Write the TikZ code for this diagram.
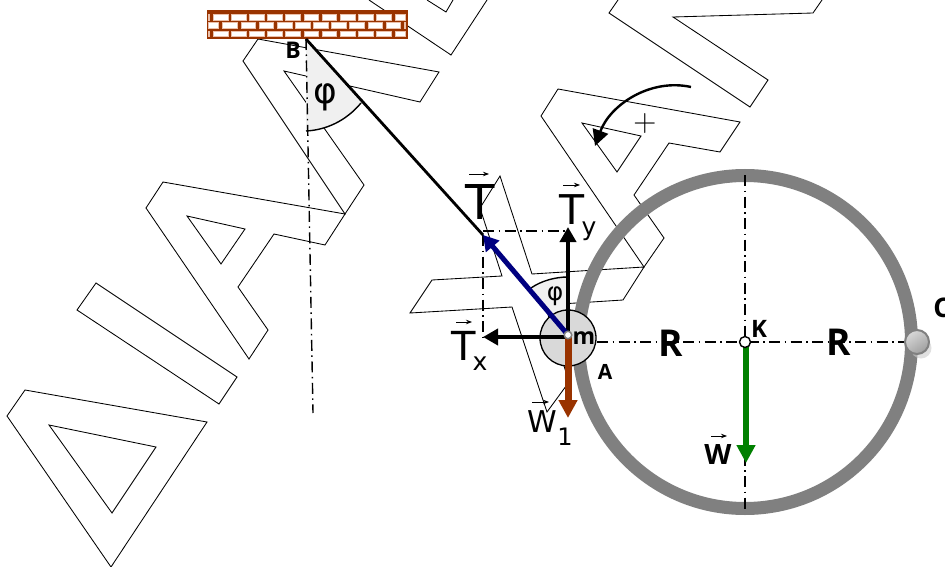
\documentclass[tikz,border=0pt]{standalone}
\usepackage{fontspec}
\usetikzlibrary{arrows.meta}
\newfontfamily\djs{DejaVu Sans}
\newfontfamily\ops{Open Sans}
\newcommand{\fsz}[1]{\fontsize{#1}{#1}\selectfont}
\definecolor{brickc}{HTML}{993300}
\definecolor{navyc}{HTML}{000080}
\definecolor{greenc}{HTML}{008000}
\definecolor{ringc}{HTML}{808080}
\definecolor{wedgec}{HTML}{F0F0F0}
\definecolor{discc}{HTML}{D9D9D9}
\definecolor{mortar}{HTML}{EBC0AA}
\tikzset{
  outline/.style={draw=black,line width=0.85pt,line join=miter},
  axisline/.style={draw=black,line width=1.4pt,dash pattern=on 11pt off 4.5pt on 1.5pt off 4.5pt},
  lab/.style={inner sep=0pt,outer sep=0pt,text=black},
  vecbar/.style={draw=black,line width=0.8pt,-{Stealth[length=6pt,width=4.5pt]}},
  brick/.style={fill=white,draw=mortar,line width=0.8pt},
}
\begin{document}
\begin{tikzpicture}[x=1pt,y=-1pt]
\useasboundingbox (0,0) rectangle (945,567);
\fill[white] (0,0) rectangle (945,567);
% background outlines
\draw[outline] (25,390)--(7,416)--(111,567)--(207,422)--cycle;
\draw[outline] (49,425)--(156,447)--(112,513)--cycle;
\draw[outline] (96,283)--(77,310)--(219,404)--(237,377)--cycle;
\draw[outline] (163,182)--(146,208)--(249,359)--(268,330)--(238,287)--(274,234)--(325,245)--(345,214)--cycle;
\draw[outline] (187,216)--(245,229)--(221,264)--cycle;
\draw[outline] (258,39)--(439,72)--(420,102)--(284,71)--(364,185)--(345,214)--(243,61)--cycle;
\draw[outline] (369,0)--(451,55)--(487,0);
\draw[outline] (427,0)--(446,12)--(453,0);
\draw[outline] (558,89)--(541,116)--(644,267)--(664,238)--(634,195)--(669,143)--(720,152)--(740,122)--cycle;
\draw[outline] (582,123)--(641,136)--(617,172)--cycle;
\draw[outline] (618,0)--(609,13)--(750,107)--(768,80)--(673,17)--(813,13)--(822,0);
\draw[outline] (432,280)--(410,313)--(512,307)--(547,412)--(569,382)--(545,305)--(623,300)--(644,267)--(532,274)--(500,176)--(480,208)--(502,276)--cycle;
% coordinates
\coordinate (B) at (306,39);
\coordinate (Bdown) at (313,413);
\coordinate (Wa) at (306,131);
\coordinate (Wb) at (361,103);
\coordinate (M) at (568,335);
\coordinate (Mx) at (568,337);
\coordinate (Tt) at (483,235);
\coordinate (Tyt) at (568,227);
\coordinate (Txt) at (483,337);
\coordinate (W1t) at (568,418);
\coordinate (Wt) at (746,463);
\coordinate (Wg) at (746,342);
\coordinate (Wc) at (531,288);
\coordinate (Wd) at (568,277);
\coordinate (Kc) at (745,342);
% wedges
\fill[wedgec] (B)--(Wa) .. controls (326,130) and (346,121) .. (Wb)--cycle;
\draw[black,line width=1.4pt] (Wa) .. controls (326,130) and (346,121) .. (Wb);
\fill[wedgec] (M)--(Wc) .. controls (541,281) and (555,277) .. (Wd)--cycle;
\draw[black,line width=1.4pt] (Wc) .. controls (541,281) and (555,277) .. (Wd);
% ring
\node[circle,draw=ringc,line width=13pt,minimum size=333pt,inner sep=0pt,outer sep=0pt,fill=none] (ring) at (Kc) {};
% center lines
\draw[axisline] (B)--(Bdown);
\draw[axisline] (745,175)--(745,512);
\draw[axisline] (597,342)--(908,342);
\draw[axisline] (483,231)--(Tyt |- 483,231);
\draw[axisline] (Tt)--(Txt);
% ceiling
\fill[brickc] (207,10.5) rectangle (408,39);
\foreach \i in {0,...,9}{
  \fill[brick] ({213.2+18.15*\i},14.3) rectangle ({227.9+18.15*\i},20.2);
  \fill[brick] ({213.2+18.15*\i},31.3) rectangle ({227.9+18.15*\i},36.2);
}
\foreach \yy/\hh in {14.3/20.2,31.3/36.2}{
  \fill[brick] (208.8,\yy) rectangle (209.8,\hh);
  \fill[brick] (395,\yy) rectangle (405.5,\hh);
}
\foreach \i in {0,...,9}{
  \fill[brick] ({222.8+18.15*\i},22.9) rectangle ({237.5+18.15*\i},28.6);
}
\fill[brick] (208.8,22.9) rectangle (218.8,28.6);
\fill[brick] (404,22.9) rectangle (405.2,28.6);
% string
\draw[black,line width=2.8pt] (B)--(Tt);
% mass
\node[circle,draw=black,fill=discc,line width=1.3pt,minimum size=56pt,inner sep=0pt] (mass) at (568,338) {};
% vectors
\draw[black,line width=4pt,-{Triangle[length=15pt,width=16pt]}] (M)--(Tyt);
\draw[black,line width=4pt,-{Triangle[length=15pt,width=16pt]}] (Mx)--(Txt);
\draw[navyc,line width=5pt,-{Triangle[length=15pt,width=17pt]}] (M)--(Tt);
\draw[brickc,line width=7pt,-{Triangle[length=18pt,width=18pt]}] (M)--(W1t);
\draw[greenc,line width=5.5pt,-{Triangle[length=18pt,width=18pt]}] (Wg)--(Wt);
\node[circle,draw=ringc,fill=white,line width=1.5pt,minimum size=7.5pt,inner sep=0pt] (mdot) at (M) {};
\node[circle,draw=black,fill=white,line width=1.4pt,minimum size=11pt,inner sep=0pt] (Kdot) at (Kc) {};
% ball C
\fill[black!20,opacity=.6] (921,348) circle (10.5);
\node[circle,draw=ringc,line width=2pt,minimum size=24pt,inner sep=0pt,top color=black!15,bottom color=black!38,shading angle=35] (ball) at (917,342) {};
% rotation arrow
\coordinate (Ra) at (691,87);
\coordinate (Rb) at (595,146);
\draw[black,line width=2.4pt,-{Triangle[length=16pt,width=16pt]}] (Ra) .. controls (650,78) and (610,105) .. (Rb);
\node[lab,font=\fsz{32}] (plus) at (645,124) {+};
% labels
\node[lab,font=\djs\fsz{36}] (phiB) at (325,97) {φ};
\node[lab,font=\djs\fsz{25}] (phiM) at (555,296) {φ};
\node[lab,font=\djs\fsz{48}] (T) at (480,202) {T};
\node[lab,font=\djs\fsz{41}] (Ty) at (572,210) {T};
\node[lab,font=\djs\fsz{25}] (Tys) at (589,231) {y};
\node[lab,font=\djs\fsz{40}] (Tx) at (464,346) {T};
\node[lab,font=\djs\fsz{25}] (Txs) at (480,364) {x};
\node[lab,font=\djs\fsz{30}] (Wone) at (542,422) {W};
\node[lab,font=\djs\fsz{24}] (Wones) at (565,437) {1};
\node[lab,font=\ops\bfseries\fsz{28}] (Wb1) at (718,455) {W};
\node[lab,font=\ops\bfseries\fsz{23}] (mlab) at (584,338) {m};
\node[lab,font=\ops\bfseries\fsz{21}] (Alab) at (605,372) {A};
\node[lab,font=\ops\bfseries\fsz{23}] (Blab) at (293,50) {B};
\node[lab,font=\ops\bfseries\fsz{24}] (Klab) at (759,329) {K};
\node[lab,font=\ops\bfseries\fsz{37}] (R1) at (671,343) {R};
\node[lab,font=\ops\bfseries\fsz{37}] (R2) at (839,342) {R};
\node[lab,font=\ops\bfseries\fsz{27}] (Clab) at (942,308) {C};
% vector bars
\draw[vecbar] (469,174)--(489,174);
\draw[vecbar] (563,185)--(580,185);
\draw[vecbar] (456,322)--(472,322);
\draw[vecbar] (532,402)--(549,402);
\draw[vecbar] (711,436)--(727,436);
\end{tikzpicture}
\end{document}
